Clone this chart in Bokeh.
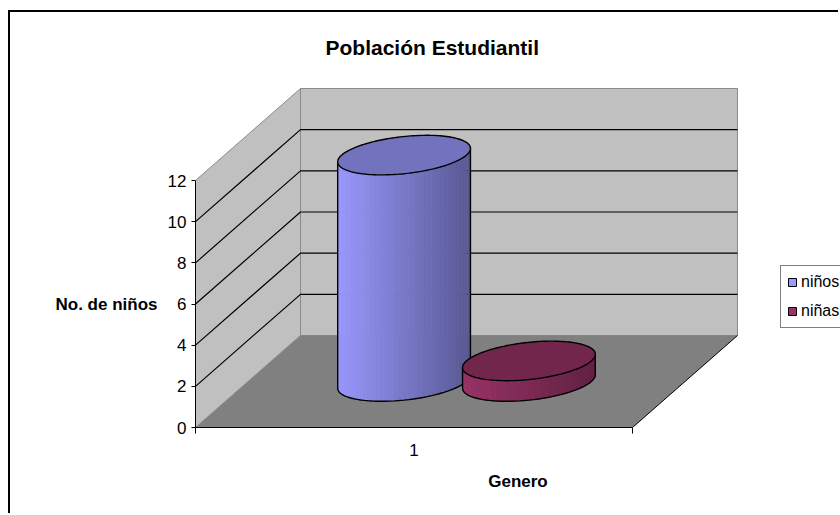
import numpy as np
from bokeh.plotting import figure
from bokeh.models import FixedTicker, Legend, LegendItem, LinearAxis, Range1d, ColumnDataSource
from bokeh.embed import file_html
from bokeh.resources import INLINE

# ---------------- data ----------------
title_text = "Población Estudiantil"
categories = ["1"]
series_names = ["niños", "niñas"]
ninos = [11]
ninas = [1]
y_ticks = [0, 2, 4, 6, 8, 10, 12]
x_title = "Genero"
y_title = "No. de niños"

series_values = [ninos, ninas]
series_colors = ["#9999ff", "#993366"]

# ---------------- style / layout ----------------
body_dark = [0.58, 0.64]
top_factor = 0.75
FONT = "Liberation Sans"
W, H = 830, 503
ML, MR, MT, MB = 185, 0, 58, 88
PX_CAT = 437.0            # px per category (front face)
PX_UNIT = 247.0 / 12      # px per value unit
DX = 105.0 / PX_CAT       # depth shift in x units
DY = 92.0 / PX_UNIT       # depth shift in value units
GAP = 1.5
DEPTH_R = 0.215
WALL = "#c0c0c0"
FLOOR = "#808080"
EDGE = "#8a8a8a"

frame_w = W - ML - MR
frame_h = H - MT - MB


def proj(x, y, z):
    return x + z * DX, y + z * DY


def shade(hexcol, f):
    h = hexcol.lstrip("#")
    r, g, b = (int(h[i:i + 2], 16) for i in (0, 2, 4))
    return "#%02x%02x%02x" % (int(r * f), int(g * f), int(b * f))


p = figure(width=W, height=H,
           x_range=Range1d(0, frame_w / PX_CAT),
           y_range=Range1d(0, frame_h / PX_UNIT),
           output_backend="svg", toolbar_location=None,
           min_border_left=ML, min_border_right=MR,
           min_border_top=MT, min_border_bottom=MB,
           title=title_text)
p.styles = {"margin-top": "10px", "margin-left": "8px",
            "border-top": "2px solid black", "border-left": "2px solid black"}
p.background_fill_color = "white"
p.border_fill_color = "white"
p.outline_line_color = None
p.xgrid.visible = False
p.ygrid.visible = False

ncat = len(categories)
ymax = y_ticks[-1]

# ---------------- walls & floor ----------------
def poly(pts):
    xs, ys = zip(*[proj(*q) for q in pts])
    return list(xs), list(ys)

bx, by = poly([(0, 0, 1), (ncat, 0, 1), (ncat, ymax, 1), (0, ymax, 1)])
p.patch(bx, by, fill_color=WALL, line_color=EDGE, line_width=1)
lx, ly = poly([(0, 0, 0), (0, 0, 1), (0, ymax, 1), (0, ymax, 0)])
p.patch(lx, ly, fill_color=WALL, line_color=EDGE, line_width=1)
fx, fy = poly([(0, 0, 0), (ncat, 0, 0), (ncat, 0, 1), (0, 0, 1)])
p.patch(fx, fy, fill_color=FLOOR, line_color=None)
ex, ey = poly([(ncat, 0, 0), (ncat, 0, 1)])
p.line(ex, ey, line_color="black", line_width=1)

# gridlines
gxs, gys = [], []
for t in y_ticks[1:-1]:
    xs_, ys_ = poly([(0, t, 0), (0, t, 1), (ncat, t, 1)])
    gxs.append(xs_)
    gys.append(ys_)
p.multi_line(gxs, gys, line_color="black", line_width=1.2)

# ---------------- cylinders ----------------
nser = len(series_values)
w = 1.0 / (nser + GAP)
rx = w / 2
th0 = np.arctan2(DX * DEPTH_R, rx)
N = 44


def ring(c, t, h):
    z = 0.5 + DEPTH_R * np.sin(t)
    return c + rx * np.cos(t) + DX * z, h + DY * z


for i, (vals, col) in enumerate(zip(series_values, series_colors)):
    for ci, v in enumerate(vals):
        c = ci + GAP / 2 * w + (i + 0.5) * w
        ts = np.linspace(th0 + np.pi, th0 + 2 * np.pi, N + 1)
        tx, ty = ring(c, ts, v)
        qx, qy = ring(c, ts, 0)
        xs, ys, cols = [], [], []
        xmin, xmax = tx.min(), tx.max()
        for k in range(N):
            xs.append([tx[k], tx[k + 1], qx[k + 1], qx[k]])
            ys.append([ty[k], ty[k + 1], qy[k + 1], qy[k]])
            u = ((tx[k] + tx[k + 1]) / 2 - xmin) / (xmax - xmin)
            cols.append(shade(col, 1 - (1 - body_dark[i]) * u))
        src = ColumnDataSource(dict(xs=xs, ys=ys, c=cols))
        p.patches("xs", "ys", source=src, fill_color="c", line_color="c", line_width=0.6)
        sx = [tx[0]] + list(qx) + [tx[-1]]
        sy = [ty[0]] + list(qy) + [ty[-1]]
        p.line(sx, sy, line_color="black", line_width=1.4)
        tf = np.linspace(0, 2 * np.pi, 160)
        ex_, ey_ = ring(c, tf, v)
        p.patch(list(ex_), list(ey_), fill_color=shade(col, top_factor),
                line_color="black", line_width=1.4)

# ---------------- axes ----------------
p.yaxis.ticker = FixedTicker(ticks=y_ticks)
p.yaxis.bounds = (y_ticks[0], y_ticks[-1])
p.yaxis.major_tick_in = 0
p.yaxis.major_tick_out = 4
p.yaxis.minor_tick_line_color = None
p.yaxis.axis_line_color = "black"
p.yaxis.major_tick_line_color = "black"
p.yaxis.major_label_text_font = FONT
p.yaxis.major_label_text_font_size = "17px"
p.yaxis.major_label_text_color = "black"
p.yaxis.major_label_standoff = 5

# horizontal y-axis title, drawn as the label of an outer left axis
mid = (y_ticks[0] + y_ticks[-1]) / 2
ylab = LinearAxis(ticker=FixedTicker(ticks=[mid]),
                  major_label_overrides={mid: y_title},
                  axis_line_color=None, major_tick_line_color=None,
                  minor_tick_line_color=None, major_tick_in=0, major_tick_out=0,
                  major_label_standoff=7, major_label_text_font=FONT,
                  major_label_text_font_size="17px",
                  major_label_text_font_style="bold",
                  major_label_text_color="black")
p.add_layout(ylab, "left")

p.xaxis.ticker = FixedTicker(ticks=[k + 0.5 for k in range(ncat)],
                             minor_ticks=list(range(ncat + 1)))
p.xaxis.major_label_overrides = {k + 0.5: cat for k, cat in enumerate(categories)}
p.xaxis.bounds = (0, ncat)
p.xaxis.major_tick_line_color = None
p.xaxis.major_tick_in = 0
p.xaxis.major_tick_out = 0
p.xaxis.minor_tick_in = 0
p.xaxis.minor_tick_out = 6
p.xaxis.minor_tick_line_color = "black"
p.xaxis.axis_line_color = "black"
p.xaxis.major_label_text_font = FONT
p.xaxis.major_label_text_font_size = "17px"
p.xaxis.major_label_text_color = "black"
p.xaxis.major_label_standoff = 10
p.xaxis.axis_label = x_title
p.xaxis.axis_label_text_font = FONT
p.xaxis.axis_label_text_font_size = "17px"
p.xaxis.axis_label_text_font_style = "bold"
p.xaxis.axis_label_text_color = "black"
p.xaxis.axis_label_standoff = 13

p.title.text_font = FONT
p.title.text_font_size = "21px"
p.title.text_font_style = "bold"
p.title.text_color = "black"
p.title.align = "left"
p.title.offset = 130
p.title.standoff = 23

# ---------------- legend ----------------
items = []
for name, col in zip(series_names, series_colors):
    r = p.quad(left=[np.nan], right=[np.nan], top=[np.nan], bottom=[np.nan],
               fill_color=col, line_color="black", line_width=1)
    items.append(LegendItem(label=name, renderers=[r]))
legend = Legend(items=items, location=(585, 99), orientation="vertical",
                label_text_font=FONT, label_text_font_size="16px",
                label_text_color="black", border_line_color="black",
                border_line_width=1.3, background_fill_color="white",
                background_fill_alpha=1, padding=6, spacing=9, margin=0,
                label_height=20, glyph_height=10, glyph_width=10, label_standoff=4)
p.add_layout(legend)

open("out.html", "w").write(file_html(p, INLINE))
